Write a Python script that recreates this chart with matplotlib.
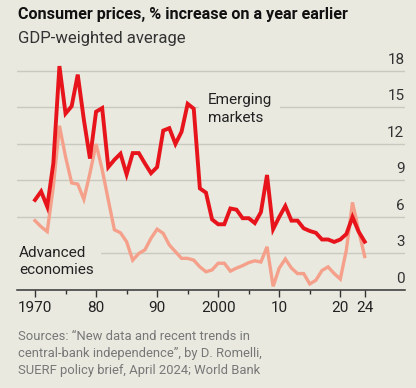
import matplotlib.pyplot as plt

years = list(range(1970, 2025))

# Emerging markets, % a year earlier
emerging = [7.4, 8.1, 6.85, 10.4, 18.4, 14.5, 15.1, 17.7, 14.0, 10.8,
            14.65, 14.95, 10.1, 10.7, 11.2, 9.5, 11.25, 11.25, 10.4, 9.6,
            10.1, 13.1, 13.3, 12.0, 13.0, 15.3, 14.9, 8.35, 8.0, 5.8,
            5.4, 5.4, 6.7, 6.6, 5.9, 5.9, 5.5, 6.4, 9.45, 5.0,
            6.0, 6.9, 5.7, 5.7, 5.07, 4.85, 4.7, 4.15, 4.15, 3.95,
            4.15, 4.6, 6.0, 4.8, 3.97]

# Advanced economies, % a year earlier
advanced = [5.7, 5.2, 4.8, 8.5, 13.5, 10.95, 8.8, 8.7, 7.45, 9.6,
            12.0, 9.9, 7.4, 4.95, 4.7, 3.97, 2.45, 3.0, 3.3, 4.25,
            5.0, 4.65, 3.7, 3.15, 2.6, 2.6, 2.45, 1.9, 1.5, 1.65,
            2.2, 2.2, 1.55, 1.8, 2.0, 2.25, 2.4, 2.3, 3.55, 0.3,
            1.8, 2.55, 1.8, 1.35, 1.35, 0.5, 0.8, 1.6, 1.9, 1.35,
            0.9, 3.3, 7.2, 4.9, 2.75]

y_ticks = [0, 3, 6, 9, 12, 15, 18]
x_major = [1970, 1980, 1990, 2000, 2010, 2020, 2024]
x_labels = ["1970", "80", "90", "2000", "10", "20", "24"]
x_minor = [1975, 1985, 1995, 2005, 2015]

bg = "#E9E9E0"
red = "#E8141C"
salmon = "#F5A08A"
grid_c = "#C9C9BF"

plt.rcParams['font.family'] = ['Roboto', 'DejaVu Sans']

fig = plt.figure(figsize=(4.16, 3.88), dpi=100, facecolor=bg)
ax = fig.add_axes([17/416, 98/388, 388/416, 237.3/388])
ax.set_facecolor(bg)
ax.set_xlim(1967.05, 2030.6)
ax.set_ylim(0, 19.5)

for v in y_ticks[1:]:
    ax.axhline(v, color=grid_c, lw=1.0, zorder=1)
    ax.text(2030.5, v + 0.35, str(v), ha="right", va="bottom",
            fontsize=11, color="#333333", zorder=2)
ax.text(2030.5, 0.35, "0", ha="right", va="bottom",
        fontsize=11, color="#333333", zorder=2)

ax.plot(years, advanced, color=salmon, lw=2.4, zorder=3,
        solid_joinstyle="miter", clip_on=False)
ax.plot(years, emerging, color=red, lw=2.8, zorder=4,
        solid_joinstyle="miter", clip_on=False)

ax.text(1998.3, 13.55, "Emerging\nmarkets", fontsize=11, color="#222222",
        linespacing=1.38, va="bottom", ha="left", zorder=2,
        bbox=dict(facecolor=bg, edgecolor="none", pad=6))
ax.text(1967.4, 1.05, "Advanced\neconomies", fontsize=11, color="#222222",
        linespacing=1.32, va="bottom", ha="left", zorder=2,
        bbox=dict(facecolor=bg, edgecolor="none", pad=5))

for s in ["top", "right", "left"]:
    ax.spines[s].set_visible(False)
ax.spines["bottom"].set_color("#333333")
ax.spines["bottom"].set_linewidth(1.1)
ax.set_yticks([])
ax.set_xticks(x_major)
ax.set_xticklabels(x_labels)
ax.set_xticks(x_minor, minor=True)
ax.tick_params(axis="x", which="major", length=5, width=1, color="#333333",
               labelsize=11, labelcolor="#222222", pad=3)
ax.tick_params(axis="x", which="minor", length=3, width=1, color="#333333")

fig.text(18/416, 1 - 15/388, "Consumer prices, % increase on a year earlier",
         fontsize=11.6, fontweight="bold", color="#111111", va="center", ha="left")
fig.text(18/416, 1 - 38/388, "GDP-weighted average",
         fontsize=12, color="#333333", va="center", ha="left")
fig.text(18/416, 1 - 330/388,
         "Sources: \u201cNew data and recent trends in\n"
         "central-bank independence\u201d, by D. Romelli,\n"
         "SUERF policy brief, April 2024; World Bank",
         fontsize=9.4, color="#777777", va="top", ha="left", linespacing=1.4)

fig.savefig("out.png", dpi=100, facecolor=bg)
